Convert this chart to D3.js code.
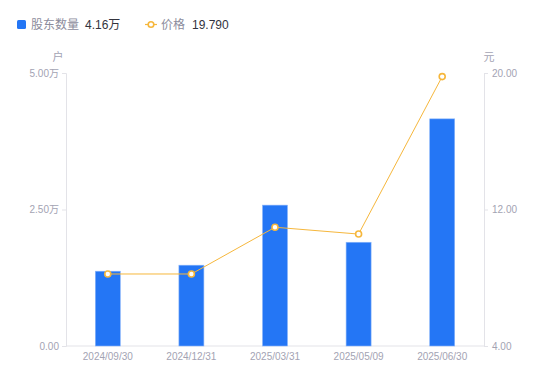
<!DOCTYPE html>
<html><head><meta charset="utf-8">
<script src="https://cdn.jsdelivr.net/npm/d3@7"></script>
<style>body{margin:0;background:#fff;}svg{display:block;font-family:"Noto Sans CJK SC","Noto Sans",sans-serif;}</style>
</head><body>
<svg id="c" width="550" height="381"></svg>
<script>
const categories = ["2024/09/30","2024/12/31","2025/03/31","2025/05/09","2025/06/30"];
const holders = [1.37, 1.48, 2.58, 1.90, 4.16]; // 万户
const prices = [8.22, 8.22, 10.96, 10.56, 19.79];
const leftTicks = [0, 2.5, 5];
const leftTickLabels = ["0.00", "2.50万", "5.00万"];
const rightTicks = [4, 12, 20];
const rightTickLabels = ["4.00", "12.00", "20.00"];

const svg = d3.select("#c");
const m = {l:66, r:484, t:73, b:346};
const x = d3.scaleBand().domain(categories).range([m.l, m.r]);
const yL = d3.scaleLinear().domain([0,5]).range([m.b, m.t]);
const yR = d3.scaleLinear().domain([4,20]).range([m.b, m.t]);
const axisColor = "#e3e3e8", textColor = "#a3a3b3";
const numFont = "'Liberation Sans', Arial, 'Noto Sans CJK SC', sans-serif";

// axes
const gL = svg.append("g").attr("transform",`translate(${m.l},0)`)
  .call(d3.axisLeft(yL).tickValues(leftTicks).tickFormat((d,i)=>leftTickLabels[i]).tickSize(4).tickPadding(3));
const gR = svg.append("g").attr("transform",`translate(${m.r},0)`)
  .call(d3.axisRight(yR).tickValues(rightTicks).tickFormat((d,i)=>rightTickLabels[i]).tickSize(4).tickPadding(4));
const gB = svg.append("g").attr("transform",`translate(0,${m.b})`)
  .call(d3.axisBottom(x).tickSize(0).tickPadding(7));
[gL,gR,gB].forEach(g=>{
  g.selectAll("path.domain").attr("stroke",axisColor);
  g.selectAll("line").attr("stroke",axisColor);
  g.selectAll("text").attr("fill",textColor).attr("font-size",10).attr("font-family",numFont);
});
gB.selectAll("path.domain").attr("d",`M${m.l},0H${m.r}`);

svg.append("text").attr("x",58).attr("y",61).attr("text-anchor","middle").attr("fill",textColor).attr("font-size",11).text("户");
svg.append("text").attr("x",489).attr("y",61).attr("text-anchor","middle").attr("fill",textColor).attr("font-size",11).text("元");

// bars
const bw = 25;
svg.append("g").selectAll("rect").data(holders).join("rect")
  .attr("x",(d,i)=>x(categories[i])+x.bandwidth()/2-bw/2)
  .attr("y",d=>yL(d)).attr("width",bw).attr("height",d=>m.b-yL(d))
  .attr("fill","#2476f5").attr("stroke","#8ab6fa").attr("stroke-width",0.6);

// line
const line = d3.line().x((d,i)=>x(categories[i])+x.bandwidth()/2).y(d=>yR(d));
svg.append("path").datum(prices).attr("d",line).attr("fill","none").attr("stroke","#f6b73c").attr("stroke-width",1);
svg.append("g").selectAll("circle").data(prices).join("circle")
  .attr("cx",(d,i)=>x(categories[i])+x.bandwidth()/2).attr("cy",d=>yR(d)).attr("r",3)
  .attr("fill","#fff").attr("stroke","#f6b73c").attr("stroke-width",1.6);

// legend
const lg = svg.append("g");
lg.append("rect").attr("x",17).attr("y",20).attr("width",9).attr("height",9).attr("rx",1.5).attr("fill","#2476f5");
lg.append("text").attr("x",31).attr("y",29).attr("font-size",12).attr("fill","#8c8c9c").text("股东数量");
lg.append("text").attr("x",85).attr("y",29).attr("font-size",12).attr("fill","#33333d").attr("font-family",numFont).text("4.16万");
lg.append("line").attr("x1",145).attr("x2",157).attr("y1",24.5).attr("y2",24.5).attr("stroke","#f6b73c").attr("stroke-width",1.2);
lg.append("circle").attr("cx",151).attr("cy",24.5).attr("r",2.8).attr("fill","#fff").attr("stroke","#f6b73c").attr("stroke-width",1.6);
lg.append("text").attr("x",161).attr("y",29).attr("font-size",12).attr("fill","#8c8c9c").text("价格");
lg.append("text").attr("x",192).attr("y",29).attr("font-size",12).attr("fill","#33333d").attr("font-family",numFont).text("19.790");
</script>
</body></html>
